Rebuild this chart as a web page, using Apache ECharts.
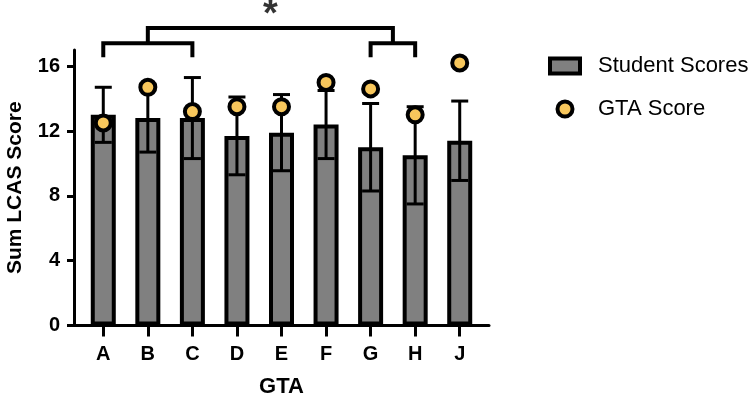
<!DOCTYPE html>
<html>
<head>
<meta charset="utf-8">
<script src="https://cdn.jsdelivr.net/npm/echarts@6/dist/echarts.min.js"></script>
<style>
  html, body { margin: 0; padding: 0; background: #fff; }
  #chart { width: 750px; height: 396px; }
</style>
</head>
<body>
<div id="chart"></div>
<script>
// categories and values
const gtaNames = ["A", "B", "C", "D", "E", "F", "G", "H", "J"];
const studentMean = [13.0, 12.8, 12.8, 11.7, 11.9, 12.4, 11.0, 10.5, 11.4];
const studentSd = [1.7, 2.1, 2.5, 2.4, 2.35, 2.1, 2.7, 3.0, 2.45];
const gtaScore = [12.5, 14.7, 13.2, 13.5, 13.5, 15.0, 14.6, 13.0, 16.2];
const yTicks = [0, 4, 8, 12, 16];

// significance brackets (category index, height)
const bracketLeft = [[0, 16.55], [0, 17.42], [2, 17.42], [2, 16.55]];
const bracketRight = [[6, 16.55], [6, 17.42], [7, 17.42], [7, 16.55]];
const bracketTop = [[1, 17.42], [1, 18.36], [6.5, 18.36], [6.5, 17.42]];
const starPos = [[3.75, 19.1]];

const font = '"Liberation Sans", Arial, sans-serif';
const idx = gtaNames.map((n, i) => i);

const bracketSeries = (data) => ({
  type: "line",
  data: data,
  symbol: "none",
  clip: false,
  silent: true,
  z: 5,
  lineStyle: { color: "#000", width: 4, join: "miter", cap: "butt" },
});

const option = {
  animation: false,
  grid: { left: 74, right: 261, top: 50, bottom: 70.5, containLabel: false, outerBoundsMode: "none" },
  legend: {
    orient: "vertical",
    left: 543,
    top: 50,
    itemWidth: 30,
    itemHeight: 15,
    itemGap: 21,
    data: [
      { name: "Student Scores", icon: "rect" },
      { name: "GTA Score", icon: "circle" },
    ],
    itemStyle: { borderWidth: 4, borderColor: "#000" },
    textStyle: { fontFamily: font, fontSize: 22, color: "#000", padding: [0, 0, 0, 13] },
  },
  xAxis: {
    type: "value",
    min: -0.657,
    max: 8.657,
    name: "GTA",
    nameLocation: "middle",
    nameGap: 50,
    nameTextStyle: { fontFamily: font, fontSize: 22, fontWeight: "bold", color: "#000" },
    axisLine: { show: true, lineStyle: { color: "#000", width: 3 } },
    axisTick: { show: true, length: 11, customValues: idx, lineStyle: { color: "#000", width: 3 } },
    axisLabel: {
      customValues: idx,
      margin: 19,
      formatter: (v) => gtaNames[Math.round(v)],
      fontFamily: font, fontSize: 20, fontWeight: "bold", color: "#000",
    },
    splitLine: { show: false },
  },
  yAxis: {
    type: "value",
    min: 0,
    max: 17,
    name: "Sum LCAS Score",
    nameLocation: "middle",
    nameGap: 48,
    nameTextStyle: { fontFamily: font, fontSize: 21, fontWeight: "bold", color: "#000" },
    axisLine: { show: true, onZero: false, lineStyle: { color: "#000", width: 3 } },
    axisTick: { show: true, length: 7, customValues: yTicks, lineStyle: { color: "#000", width: 3 } },
    axisLabel: {
      customValues: yTicks,
      margin: 14,
      fontFamily: font, fontSize: 20, fontWeight: "bold", color: "#000",
    },
    splitLine: { show: false },
  },
  series: [
    {
      name: "Student Scores",
      type: "bar",
      barWidth: 25,
      data: studentMean.map((v, i) => [i, v]),
      itemStyle: { color: "#808080", borderColor: "#000", borderWidth: 4 },
      z: 2,
    },
    {
      name: "Student SD",
      type: "custom",
      data: studentMean.map((v, i) => [i, v - studentSd[i], v + studentSd[i]]),
      encode: { x: 0, y: [1, 2] },
      z: 3,
      renderItem: (params, api) => {
        const top = api.coord([api.value(0), api.value(2)]);
        const bot = api.coord([api.value(0), api.value(1)]);
        const half = 8.5;
        const st = { stroke: "#000", lineWidth: 3 };
        return {
          type: "group",
          children: [
            { type: "line", shape: { x1: top[0], y1: top[1], x2: bot[0], y2: bot[1] }, style: st },
            { type: "line", shape: { x1: top[0] - half, y1: top[1], x2: top[0] + half, y2: top[1] }, style: st },
            { type: "line", shape: { x1: bot[0] - half, y1: bot[1], x2: bot[0] + half, y2: bot[1] }, style: st },
          ],
        };
      },
    },
    {
      name: "GTA Score",
      type: "scatter",
      symbol: "circle",
      symbolSize: 15,
      data: gtaScore.map((v, i) => [i, v]),
      itemStyle: { color: "#F8C75C", borderColor: "#000", borderWidth: 4, opacity: 1 },
      z: 4,
    },
    bracketSeries(bracketLeft),
    bracketSeries(bracketRight),
    bracketSeries(bracketTop),
    {
      type: "scatter",
      data: starPos,
      symbolSize: 1,
      clip: false,
      silent: true,
      itemStyle: { color: "rgba(0,0,0,0)" },
      label: {
        show: true,
        position: "inside",
        formatter: "*",
        fontFamily: font,
        fontSize: 38,
        fontWeight: "bold",
        color: "#000",
      },
      z: 6,
    },
  ],
};

const myChart = echarts.init(document.getElementById("chart"));
myChart.setOption(option);
</script>
</body>
</html>
